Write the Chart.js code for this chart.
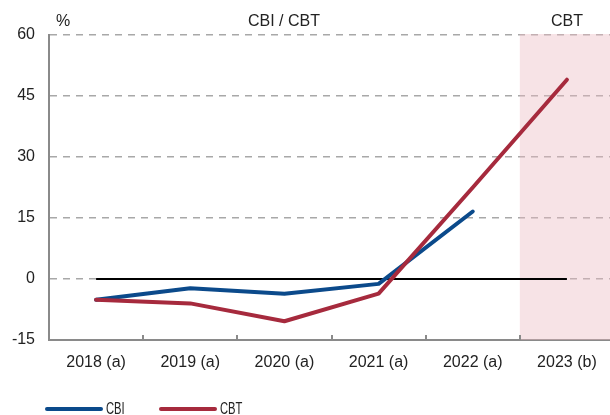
<!DOCTYPE html>
<html>
<head>
<meta charset="utf-8">
<script src="https://cdn.jsdelivr.net/npm/chart.js@4/dist/chart.umd.min.js"></script>
<style>
html,body{margin:0;padding:0;background:#fff;overflow:hidden;width:610px;height:415px;}
canvas{display:block;}
</style>
</head>
<body>
<canvas id="c" width="614" height="415"></canvas>
<script>
const categories = ['2018 (a)', '2019 (a)', '2020 (a)', '2021 (a)', '2022 (a)', '2023 (b)'];
const cbi = [-5.1, -2.3, -3.6, -1.2, 16.6, null];
const cbt = [-5.1, -6.0, -10.4, -3.6, 22.5, 49.0];
const baseline = [0, 0, 0, 0, 0, 0];
const yTicks = [-15, 0, 15, 30, 45, 60];
const topLabels = ['%', 'CBI / CBT', 'CBT'];
const legendLabels = ['CBI', 'CBT'];

const BLUE = '#0b4a8b';
const RED = '#a62a3d';
const FONT = '"Liberation Sans", Arial, Helvetica, sans-serif';

const decor = {
  id: 'decor',
  beforeDatasetsDraw(chart) {
    const {ctx, chartArea: a, scales: {x}} = chart;
    const xs = x.getPixelForValue(4), xe = x.getPixelForValue(5);
    const bx = (xs + xe) / 2;
    ctx.save();
    ctx.fillStyle = 'rgba(235,185,193,0.4)';
    ctx.fillRect(bx, a.top - 1, a.right - bx, a.bottom - a.top + 1);
    // inner tick marks on x axis
    ctx.strokeStyle = '#8a8a8a';
    ctx.lineWidth = 2;
    for (let i = 1; i < categories.length; i++) {
      const px = Math.round((x.getPixelForValue(i - 1) + x.getPixelForValue(i)) / 2);
      ctx.beginPath();
      ctx.moveTo(px, a.bottom);
      ctx.lineTo(px, a.bottom - 5);
      ctx.stroke();
    }
    ctx.restore();
  },
  afterDraw(chart) {
    const {ctx, chartArea: a, scales: {x}} = chart;
    ctx.save();
    ctx.fillStyle = '#222';
    ctx.font = '16px ' + FONT;
    ctx.textAlign = 'center';
    ctx.textBaseline = 'middle';
    ctx.fillText(topLabels[0], 63, 22);
    ctx.fillText(topLabels[1], 284, 22);
    ctx.fillText(topLabels[2], x.getPixelForValue(5), 22);
    // legend
    const items = [[BLUE, 47, 101, 106], [RED, 161, 215, 220]];
    const ly = 409;
    items.forEach((it, i) => {
      ctx.strokeStyle = it[0];
      ctx.lineWidth = 4;
      ctx.lineCap = 'round';
      ctx.beginPath();
      ctx.moveTo(it[1], ly);
      ctx.lineTo(it[2], ly);
      ctx.stroke();
      ctx.save();
      ctx.translate(it[3], ly);
      ctx.scale(0.7, 1);
      ctx.font = '16px ' + FONT;
      ctx.textAlign = 'left';
      ctx.fillStyle = '#222';
      ctx.fillText(legendLabels[i], 0, 1);
      ctx.restore();
    });
    ctx.restore();
  }
};

new Chart(document.getElementById('c'), {
  type: 'line',
  data: {
    labels: categories,
    datasets: [
      {label: 'CBI', data: cbi, borderColor: BLUE, backgroundColor: BLUE, borderWidth: 4,
       pointRadius: 0, borderCapStyle: 'round', borderJoinStyle: 'round', tension: 0, order: 2, spanGaps: false},
      {label: 'CBT', data: cbt, borderColor: RED, backgroundColor: RED, borderWidth: 4,
       pointRadius: 0, borderCapStyle: 'round', borderJoinStyle: 'round', tension: 0, order: 1},
      {label: 'zero', data: baseline, borderColor: '#000', borderWidth: 2, pointRadius: 0, order: 3}
    ]
  },
  options: {
    responsive: false,
    animation: false,
    events: [],
    layout: {padding: {top: 35, right: 0, bottom: 0, left: 0}},
    plugins: {legend: {display: false}, tooltip: {enabled: false}},
    scales: {
      x: {
        offset: true,
        grid: {display: false, drawTicks: false},
        border: {display: true, color: '#8a8a8a', width: 2},
        ticks: {color: '#222', font: {family: FONT, size: 16}, padding: 13, maxRotation: 0, autoSkip: false},
        afterFit(s) { s.height = 75; }
      },
      y: {
        min: -15, max: 60,
        afterBuildTicks(s) { s.ticks = yTicks.map(v => ({value: v})); },
        grid: {
          drawTicks: false,
          color: c => c.tick && c.tick.value === -15 ? 'rgba(0,0,0,0)' : '#a8a8a8',
          lineWidth: 1.5
        },
        border: {display: true, color: '#8a8a8a', width: 2, dash: [7, 6], dashOffset: 0},
        ticks: {color: '#222', font: {family: FONT, size: 16}, padding: 14},
        afterFit(s) { s.width = 49; }
      }
    }
  },
  plugins: [decor]
});
</script>
</body>
</html>
